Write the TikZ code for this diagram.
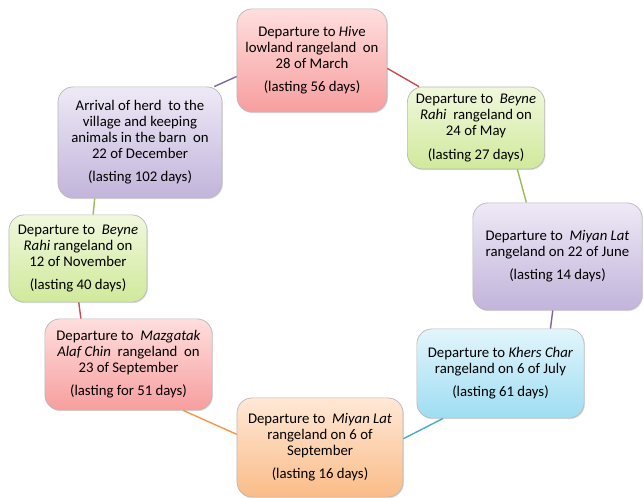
\documentclass[tikz,border=0pt]{standalone}
\usepackage{fontspec}
\setmainfont{Carlito}
\usetikzlibrary{positioning, shadows}

\definecolor{redTop}{RGB}{255,222,222}
\definecolor{redBot}{RGB}{247,158,158}
\definecolor{greenTop}{RGB}{240,248,220}
\definecolor{greenBot}{RGB}{208,233,155}
\definecolor{purpleTop}{RGB}{238,233,246}
\definecolor{purpleBot}{RGB}{194,180,219}
\definecolor{blueTop}{RGB}{226,245,252}
\definecolor{blueBot}{RGB}{158,221,242}
\definecolor{orangeTop}{RGB}{255,232,214}
\definecolor{orangeBot}{RGB}{250,188,136}
\definecolor{redLine}{RGB}{192,80,77}
\definecolor{greenLine}{RGB}{155,187,89}
\definecolor{purpleLine}{RGB}{128,100,162}
\definecolor{blueLine}{RGB}{75,172,198}
\definecolor{orangeLine}{RGB}{247,150,70}

\tikzset{
  stage/.style={rectangle, rounded corners=0.38cm, draw=gray!55, line width=0.5pt,
    align=center, inner sep=2pt, font=\fontsize{10.5}{11.4}\selectfont,
    drop shadow={opacity=0.25, shadow xshift=0.6pt, shadow yshift=-0.8pt}},
  redbox/.style={stage, top color=redTop, bottom color=redBot},
  greenbox/.style={stage, top color=greenTop, bottom color=greenBot},
  purplebox/.style={stage, top color=purpleTop, bottom color=purpleBot},
  bluebox/.style={stage, top color=blueTop, bottom color=blueBot},
  orangebox/.style={stage, top color=orangeTop, bottom color=orangeBot},
  link/.style={line width=1pt}
}

\begin{document}
\begin{tikzpicture}[x=0.025cm, y={(0,-0.025cm)}]
    \useasboundingbox (0,0) rectangle (644,498);

    % Stages of the yearly migration
    \node (hive) [redbox, minimum width=3.75cm, minimum height=2.58cm] at (312,60.5)
        {Departure to \textit{Hiv}e\\ lowland rangeland\ \ on\\ 28 of March\\[5pt] (lasting 56 days)};
    \node (beyneMay) [greenbox, minimum width=3.43cm, minimum height=2.05cm] at (476,128)
        {Departure to\ \ \textit{Beyne}\\ \textit{Rahi}\ \ rangeland on\\ 24 of May\\[5pt] (lasting 27 days)};
    \node (miyanJune) [purplebox, minimum width=4.23cm, minimum height=2.68cm] at (557.5,256.5)
        {Departure to\ \ \textit{Miyan Lat}\\ rangeland on 22 of June\\[5pt] (lasting 14 days)};
    \node (khersChar) [bluebox, minimum width=4.18cm, minimum height=2.23cm] at (500.5,373.5)
        {Departure to \textit{Khers Char}\\ rangeland on 6 of July\\[5pt] (lasting 61 days)};
    \node (miyanSep) [orangebox, minimum width=4.15cm, minimum height=2.48cm] at (320,447.5)
        {Departure to\ \ \textit{Miyan Lat}\\ rangeland on 6 of\\ September\\[5pt] (lasting 16 days)};
    \node (mazgatak) [redbox, minimum width=4.18cm, minimum height=2.28cm] at (128.5,364.5)
        {Departure to\ \ \textit{Mazgatak}\\ \textit{Alaf Chin}\ \ rangeland\ \ on\\ 23 of September\\[5pt] (lasting for 51 days)};
    \node (beyneNov) [greenbox, minimum width=3.45cm, minimum height=2.18cm] at (78,258.5)
        {Departure to\ \ \textit{Beyne}\\ \textit{Rahi} rangeland on\\ 12 of November\\[5pt] (lasting 40 days)};
    \node (arrival) [purplebox, minimum width=4.1cm, minimum height=2.78cm] at (140,142.5)
        {Arrival of herd\ \ to the\\ village and keeping\\ animals in the barn\ \ on\\ 22 of December\\[5pt] (lasting 102 days)};

    % Links round the cycle
    \draw[link, redLine] (hive.-6) -- (beyneMay.144);
    \draw[link, greenLine] (beyneMay.-45) -- (miyanJune.120);
    \draw[link, purpleLine] (miyanJune.-95) -- (khersChar.42);
    \draw[link, blueLine] (khersChar.-142) -- (miyanSep.6.5);
    \draw[link, orangeLine] (miyanSep.171) -- (mazgatak.-40);
    \draw[link, redLine] (mazgatak.136) -- (beyneNov.-89);
    \draw[link, greenLine] (beyneNov.71) -- (arrival.-129);
    \draw[link, purpleLine] (arrival.37) -- (hive.192);
\end{tikzpicture}
\end{document}
